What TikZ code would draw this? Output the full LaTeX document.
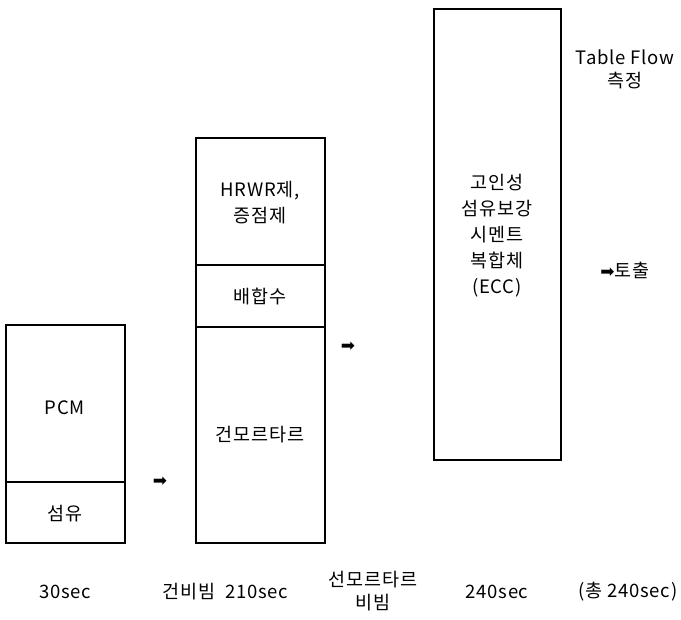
\documentclass[tikz,border=0pt]{standalone}
\usepackage{fontspec}
\setmainfont{Noto Sans CJK KR}[LetterSpace=4]
\newfontfamily\arrowfont{DejaVu Sans}
\begin{document}
\begin{tikzpicture}[x=1pt,y=-1pt,
  box/.style={draw=black,line width=2.2pt,fill=white},
  lbl/.style={font=\fontsize{18.5}{26}\selectfont,inner sep=0pt,align=center},
  arr/.style={font=\arrowfont\fontsize{17}{18}\selectfont,inner sep=0pt}]
\useasboundingbox (0,0) rectangle (681,620);
% box 1
\draw[box] (6,325) rectangle (125,543);
\draw[line width=2.2pt] (6,482) -- (125,482);
\node[lbl] (pcm) at (65,408) {PCM};
\node[lbl] (fiber) at (65,514) {섬유};
% box 2
\draw[box] (196,138) rectangle (325,543);
\draw[line width=2.2pt] (196,265) -- (325,265);
\draw[line width=2.2pt] (196,327) -- (325,327);
\node[lbl] (hrwr) at (260,203) {HRWR제,\\증점제};
\node[lbl] (water) at (260,296) {배합수};
\node[lbl] (drym) at (260,435) {건모르타르};
% box 3
\draw[box] (434,9) rectangle (561,460);
\node[lbl] (ecc) at (497,236) {고인성\\섬유보강\\시멘트\\복합체\\(ECC)};
% arrows
\node[arr] (a1) at (160,482) {➡};
\node[arr] (a2) at (348,347) {➡};
% right texts
\node[lbl,font=\fontsize{18.5}{23}\selectfont] (tf) at (625,69) {Table Flow\\측정};
\node[lbl] (out) at (625,270) {{\arrowfont\fontsize{17}{18}\selectfont ➡}토출};
% bottom labels
\node[lbl] (t1) at (65,592) {30sec};
\node[lbl] (m1) at (189,592) {건비빔};
\node[lbl] (t2) at (257,592) {210sec};
\node[lbl,font=\fontsize{18.5}{23}\selectfont] (m2) at (373,591) {선모르타르\\비빔};
\node[lbl] (t3) at (497,592) {240sec};
\node[lbl] (tot) at (628,592) {(총 240sec)};
\end{tikzpicture}
\end{document}
